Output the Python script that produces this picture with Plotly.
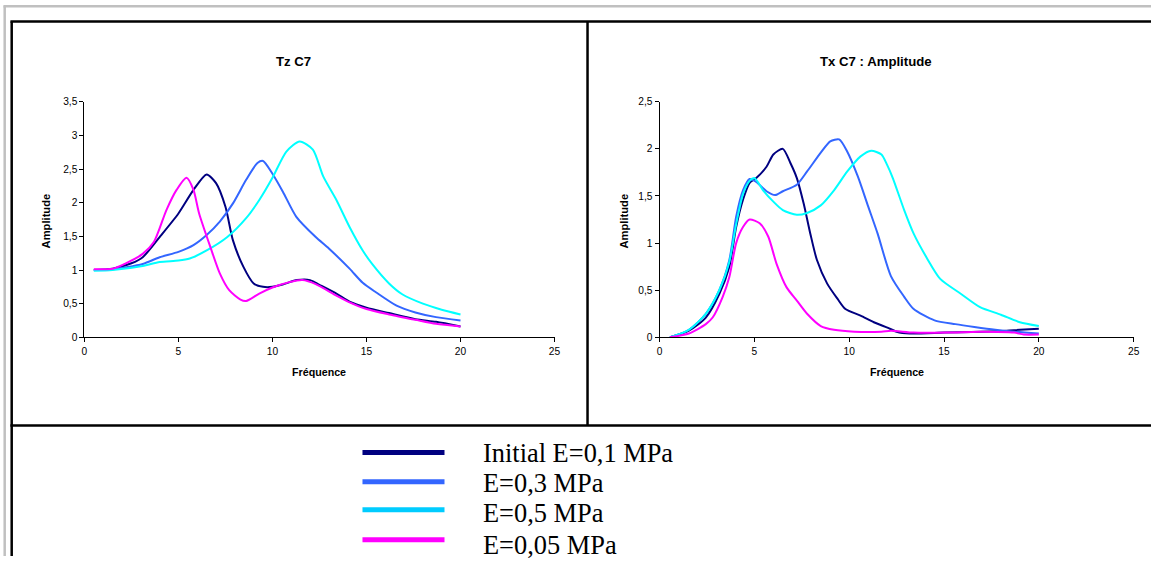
import plotly.graph_objects as go

W, H = 1157, 562

# ---------------- data ----------------
series_names = ["Initial E=0,1 MPa", "E=0,3 MPa", "E=0,5 MPa", "E=0,05 MPa"]
series_colors = ["#000080", "#3366FF", "#00FFFF", "#FF00FF"]
legend_colors = ["#000080", "#3366FF", "#00CCFF", "#FF00FF"]

# Tz C7
tz_init_f = [0.5, 1.5, 2.5, 3.1, 4.0, 5.0, 5.8, 6.5, 7.0, 7.5, 7.9, 8.45, 9.0, 9.5, 10.0, 10.6, 11.3, 12.0, 12.5, 13.4, 14.1, 15.0, 16.2, 17.6, 18.7, 20.0]
tz_init_a = [1.0, 1.02, 1.10, 1.19, 1.49, 1.84, 2.19, 2.42, 2.29, 1.94, 1.44, 1.05, 0.80, 0.75, 0.75, 0.79, 0.85, 0.85, 0.78, 0.65, 0.53, 0.44, 0.36, 0.27, 0.23, 0.16]

tz_e03_f = [0.5, 1.5, 3.1, 4.0, 5.0, 5.8, 6.5, 7.2, 7.9, 8.6, 9.2, 9.5, 10.0, 10.56, 11.27, 12.3, 13.0, 14.1, 14.8, 15.5, 16.6, 17.6, 18.7, 20.0]
tz_e03_a = [1.0, 1.01, 1.09, 1.19, 1.27, 1.37, 1.52, 1.72, 1.99, 2.34, 2.59, 2.62, 2.43, 2.16, 1.79, 1.49, 1.32, 1.02, 0.81, 0.67, 0.47, 0.37, 0.30, 0.25]

tz_e05_f = [0.5, 1.5, 3.1, 4.0, 5.0, 5.6, 6.5, 7.6, 8.6, 9.3, 10.0, 10.74, 11.45, 12.15, 12.7, 13.4, 14.1, 14.8, 15.3, 16.2, 16.9, 18.0, 19.0, 20.0]
tz_e05_a = [0.99, 1.0, 1.06, 1.12, 1.14, 1.17, 1.29, 1.49, 1.77, 2.04, 2.37, 2.76, 2.91, 2.79, 2.39, 2.04, 1.64, 1.29, 1.09, 0.80, 0.64, 0.50, 0.41, 0.34]

tz_e005_f = [0.5, 1.5, 2.2, 3.1, 3.7, 4.36, 4.9, 5.43, 5.8, 6.1, 6.7, 7.2, 7.7, 8.3, 8.6, 9.3, 10.0, 10.9, 11.6, 12.3, 13.4, 14.1, 15.0, 16.2, 17.6, 18.7, 20.0]
tz_e005_a = [1.01, 1.02, 1.10, 1.24, 1.42, 1.89, 2.19, 2.37, 2.19, 1.84, 1.34, 0.95, 0.70, 0.56, 0.54, 0.65, 0.74, 0.82, 0.85, 0.79, 0.62, 0.52, 0.42, 0.34, 0.26, 0.20, 0.16]

# Tx C7 : Amplitude
tx_init_f = [0.55, 1.55, 2.44, 3.15, 3.68, 4.04, 4.4, 4.75, 5.1, 5.64, 6.0, 6.5, 6.9, 7.24, 7.6, 7.95, 8.3, 8.84, 9.38, 9.8, 10.6, 11.3, 12.05, 12.5, 13.2, 15.0, 16.9, 18.3, 19.0, 20.0]
tx_init_a = [0.0, 0.07, 0.21, 0.46, 0.75, 1.17, 1.46, 1.64, 1.69, 1.81, 1.94, 2.0, 1.85, 1.69, 1.42, 1.10, 0.82, 0.57, 0.41, 0.30, 0.23, 0.16, 0.10, 0.06, 0.04, 0.05, 0.06, 0.07, 0.08, 0.09]

tx_e03_f = [0.55, 1.55, 2.44, 3.15, 3.68, 4.04, 4.4, 4.75, 5.1, 5.64, 6.1, 6.5, 7.24, 7.78, 8.5, 9.0, 9.47, 9.9, 10.45, 11.0, 11.5, 12.2, 12.9, 13.4, 14.5, 15.6, 16.6, 17.7, 18.7, 20.0]
tx_e03_a = [0.0, 0.08, 0.25, 0.50, 0.82, 1.28, 1.56, 1.68, 1.65, 1.55, 1.51, 1.55, 1.62, 1.76, 1.96, 2.08, 2.10, 1.97, 1.71, 1.39, 1.10, 0.65, 0.43, 0.30, 0.18, 0.14, 0.11, 0.08, 0.06, 0.04]

tx_e05_f = [0.55, 1.55, 2.44, 3.15, 3.68, 4.04, 4.4, 4.75, 5.0, 5.46, 6.0, 6.5, 7.24, 7.78, 8.5, 9.2, 9.9, 10.6, 11.16, 11.7, 12.0, 12.3, 12.9, 13.4, 14.1, 14.8, 15.9, 16.9, 18.0, 19.0, 20.0]
tx_e05_a = [0.0, 0.08, 0.25, 0.50, 0.80, 1.20, 1.52, 1.66, 1.69, 1.56, 1.44, 1.35, 1.30, 1.32, 1.40, 1.56, 1.76, 1.92, 1.98, 1.94, 1.83, 1.69, 1.35, 1.10, 0.84, 0.62, 0.46, 0.32, 0.24, 0.16, 0.12]

tx_e005_f = [0.55, 1.55, 2.44, 2.8, 3.33, 3.68, 4.04, 4.4, 4.75, 5.28, 5.73, 6.17, 6.7, 7.24, 7.78, 8.5, 9.2, 10.27, 11.7, 12.2, 13.4, 15.2, 16.9, 18.7, 19.2, 20.0]
tx_e005_a = [0.0, 0.04, 0.14, 0.21, 0.43, 0.64, 1.0, 1.17, 1.25, 1.21, 1.07, 0.78, 0.53, 0.39, 0.25, 0.12, 0.08, 0.06, 0.06, 0.07, 0.05, 0.05, 0.06, 0.05, 0.03, 0.03]

x_ticks = [0, 5, 10, 15, 20, 25]
tz_yticks = [0, 0.5, 1, 1.5, 2, 2.5, 3, 3.5]
tz_yticklabels = ["0", "0,5", "1", "1,5", "2", "2,5", "3", "3,5"]
tx_yticks = [0, 0.5, 1, 1.5, 2, 2.5]
tx_yticklabels = ["0", "0,5", "1", "1,5", "2", "2,5"]

# ---------------- helpers ----------------
# the photographed page maps the figure slightly inset; compensate
SX, OX, SY, OY = 0.992, 3.6, 0.978, 5.5

def px(x):
    return min(1.0, max(0.0, (x - OX) / SX / W))

def py(y):
    return min(1.0, max(0.0, 1 - (y - OY) / SY / H))

def fs(s):
    return round(s / 0.985, 1)

fig = go.Figure()

tz_data = [(tz_init_f, tz_init_a), (tz_e03_f, tz_e03_a), (tz_e05_f, tz_e05_a), (tz_e005_f, tz_e005_a)]
tx_data = [(tx_init_f, tx_init_a), (tx_e03_f, tx_e03_a), (tx_e05_f, tx_e05_a), (tx_e005_f, tx_e005_a)]

for (f, a), name, col in zip(tz_data, series_names, series_colors):
    fig.add_trace(go.Scatter(x=f, y=a, mode="lines", name=name, showlegend=False, hoverinfo="skip",
                             line=dict(color=col, width=2, shape="spline", smoothing=0.7),
                             xaxis="x", yaxis="y"))
for (f, a), name, col in zip(tx_data, series_names, series_colors):
    fig.add_trace(go.Scatter(x=f, y=a, mode="lines", name=name, showlegend=False, hoverinfo="skip",
                             line=dict(color=col, width=2, shape="spline", smoothing=0.7),
                             xaxis="x2", yaxis="y2"))

tickfont = dict(family="Arial, Liberation Sans, sans-serif", size=fs(10), color="black")
common_ax = dict(showgrid=False, zeroline=False, showline=True, linecolor="black", linewidth=1,
                 ticks="outside", ticklen=4, tickcolor="black", tickwidth=1, tickfont=tickfont,
                 fixedrange=True)

fig.update_layout(
    width=W, height=H,
    margin=dict(l=0, r=0, t=0, b=0),
    paper_bgcolor="white", plot_bgcolor="white",
    showlegend=False,
    xaxis=dict(domain=[px(85), px(555)], range=[0, 25], tickvals=x_ticks, anchor="y", **common_ax),
    yaxis=dict(domain=[py(337), py(102)], range=[0, 3.5], tickvals=tz_yticks, ticktext=tz_yticklabels,
               anchor="x", **common_ax),
    xaxis2=dict(domain=[px(660), px(1134)], range=[0, 25], tickvals=x_ticks, anchor="y2", **common_ax),
    yaxis2=dict(domain=[py(337), py(102)], range=[0, 2.5], tickvals=tx_yticks, ticktext=tx_yticklabels,
                anchor="x2", **common_ax),
)

# frames
shapes = []
def line(x0, y0, x1, y1, color, width):
    shapes.append(dict(type="line", xref="paper", yref="paper", x0=px(x0), y0=py(y0), x1=px(x1), y1=py(y1),
                       line=dict(color=color, width=width)))

line(4, 6.8, W, 6.8, "#C0C0C0", 2.5)
line(5.3, 6.8, 5.3, H, "#C0C0C0", 2.5)
line(11, 22, W, 22, "black", 2.5)
line(12.3, 22, 12.3, H, "black", 2.5)
line(588, 22, 588, 425, "black", 2.5)
line(11, 425, W, 425, "black", 2.5)

# legend samples
leg_y = [452, 481, 509, 539]
for yy, col in zip(leg_y, legend_colors):
    line(363, yy, 445, yy, col, 5)

fig.update_layout(shapes=shapes)

annots = []
bold = dict(family="Arial, Liberation Sans, sans-serif", size=11, color="black")
def ann(text, x, y, font, **kw):
    d = dict(text=text, x=px(x), y=py(y), xref="paper", yref="paper", showarrow=False,
             xanchor="center", yanchor="middle", font=font)
    d.update(kw)
    annots.append(d)

ann("<b>Tz C7</b>", 294, 62, dict(bold, size=fs(13)))
ann("<b>Tx C7 : Amplitude</b>", 876, 62, dict(bold, size=fs(13)))
for cx in (320, 897):
    ann("<b>Fréquence</b>", cx, 372, dict(bold, size=fs(10.5)))
for cx in (47, 624):
    ann("<b>Amplitude</b>", cx, 221, dict(bold, size=fs(11)), textangle=-90)

leg_text_y = [452, 482, 512, 544]
serif = dict(family="Liberation Serif, Times New Roman, serif", size=fs(26), color="black")
for yy, name in zip(leg_text_y, series_names):
    ann(name, 481, yy, serif, xanchor="left")
fig.update_layout(annotations=annots)

post = (
    "document.documentElement.style.margin='0';document.body.style.margin='0';"
    "document.documentElement.style.overflow='hidden';document.body.style.overflow='hidden';"
)
fig.write_html("out.html", config={"displayModeBar": False, "staticPlot": True}, post_script=post)
